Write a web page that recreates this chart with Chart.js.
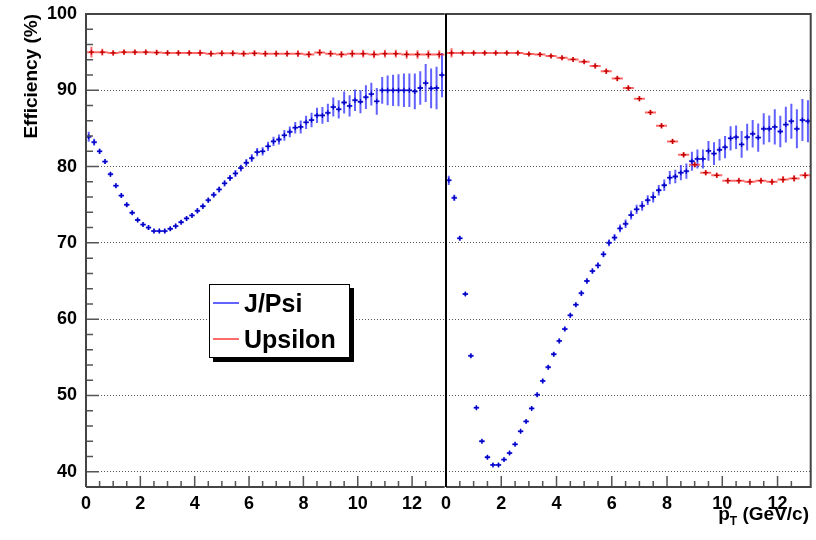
<!DOCTYPE html>
<html>
<head>
<meta charset="utf-8">
<script src="https://cdn.jsdelivr.net/npm/chart.js@4.4.0/dist/chart.umd.min.js"></script>
<style>
  body { margin: 0; background: #fff; width: 816px; height: 540px; position: relative; overflow: hidden; font-family: "Liberation Sans", Arial, sans-serif; }
  canvas { position: absolute; top: 0; }
  #left { left: 0; }
  #right { left: 440px; }
  #legend { position: absolute; left: 209px; top: 284px; width: 139px; height: 72px; border: 1px solid #000; background: #fff; box-shadow: 4px 4px 0 #000; }
  #legend .row { position: absolute; left: 3px; height: 36px; display: flex; align-items: center; font-weight: bold; font-size: 25px; color: #000; }
  #legend .swatch { width: 26px; height: 2px; margin-right: 5px; }
  #xtitle { position: absolute; right: 7px; top: 504px; font-weight: bold; font-size: 19px; line-height: 19px; color: #000; }
  #xtitle sub { font-size: 12px; vertical-align: -5px; }
</style>
</head>
<body>
<canvas id="left" width="450" height="540"></canvas>
<canvas id="right" width="376" height="540"></canvas>
<div id="legend"></div>
<div id="xtitle">p<sub>T</sub> (GeV/c)</div>
<script>
// bin widths in pT (GeV/c)
const jpsiBinWidth = 0.2;
const upsBinWidth = 0.4;

// left panel
const jpsiLeft = [83.9, 83.2, 82.0, 80.65, 79.0, 77.5, 76.2, 75.0, 73.95, 73.0,
  72.4, 72.0, 71.55, 71.55, 71.55, 71.85, 72.2, 72.7, 73.2, 73.6,
  74.2, 74.8, 75.6, 76.3, 77.0, 77.8, 78.5, 79.1, 79.8, 80.5,
  81.1, 81.9, 82.0, 82.65, 83.3, 83.55, 84.1, 84.55, 85.1, 85.2,
  85.8, 86.1, 86.7, 86.7, 87.05, 87.8, 87.5, 88.4, 87.95, 88.7,
  88.5, 89.1, 89.5, 88.55, 90.0, 90.0, 90.0, 90.0, 90.0, 90.0,
  89.85, 90.3, 90.95, 90.25, 90.3, 92.0];
const jpsiLeftErr = [0.65, 0.45, 0.35, 0.3, 0.3, 0.3, 0.3, 0.3, 0.3, 0.3,
  0.3, 0.3, 0.3, 0.3, 0.3, 0.3, 0.3, 0.3, 0.3, 0.3,
  0.35, 0.35, 0.35, 0.35, 0.4, 0.4, 0.4, 0.45, 0.45, 0.5,
  0.5, 0.55, 0.55, 0.6, 0.6, 0.65, 0.7, 0.7, 0.75, 0.85,
  0.87, 0.95, 1.0, 1.1, 1.2, 1.25, 1.2, 1.45, 1.4, 1.4,
  1.5, 1.55, 1.5, 1.75, 1.75, 1.95, 2.05, 2.1, 2.2, 2.2,
  2.35, 2.2, 2.5, 2.6, 2.8, 2.9];
const upsLeft = [95.0, 95.0, 94.9, 95.0, 95.0, 95.0, 94.95, 94.9, 94.9, 94.9,
  94.9, 94.8, 94.85, 94.85, 94.8, 94.85, 94.8, 94.8, 94.8, 94.8,
  94.7, 94.95, 94.8, 94.7, 94.8, 94.8, 94.7, 94.8, 94.8, 94.7,
  94.7, 94.7, 94.7];
const upsLeftErr = [0.7, 0.45, 0.35, 0.35, 0.35, 0.35, 0.35, 0.35, 0.35, 0.35,
  0.4, 0.4, 0.4, 0.4, 0.4, 0.4, 0.4, 0.4, 0.4, 0.45,
  0.45, 0.45, 0.45, 0.45, 0.5, 0.5, 0.5, 0.5, 0.5, 0.55,
  0.55, 0.55, 0.55];

// right panel
const jpsiRight = [78.2, 75.9, 70.6, 63.3, 55.2, 48.4, 44.0, 41.9, 40.9, 40.9,
  41.6, 42.45, 43.6, 45.3, 46.6, 48.3, 50.1, 51.9, 53.7, 55.4,
  57.15, 58.7, 60.5, 61.9, 63.4, 65.0, 66.3, 67.05, 68.5, 70.0,
  70.7, 71.9, 72.5, 73.65, 74.4, 74.85, 75.6, 76.0, 76.9, 77.55,
  78.55, 78.7, 79.2, 79.4, 80.7, 81.0, 81.0, 82.05, 81.7, 82.2,
  82.55, 83.7, 83.85, 82.9, 83.85, 84.3, 83.8, 84.95, 84.95, 85.2,
  84.6, 85.5, 85.95, 84.95, 86.1, 85.95];
const jpsiRightErr = [0.6, 0.4, 0.3, 0.25, 0.25, 0.25, 0.25, 0.25, 0.25, 0.25,
  0.25, 0.25, 0.25, 0.25, 0.25, 0.25, 0.3, 0.3, 0.3, 0.3,
  0.3, 0.3, 0.3, 0.3, 0.35, 0.35, 0.35, 0.4, 0.4, 0.45,
  0.45, 0.5, 0.55, 0.6, 0.6, 0.65, 0.65, 0.7, 0.7, 0.75,
  0.87, 0.87, 1.0, 1.0, 1.25, 1.25, 1.25, 1.3, 1.5, 1.4,
  1.45, 1.6, 1.55, 1.75, 1.75, 1.8, 1.85, 2.05, 1.75, 2.3,
  2.05, 2.35, 2.3, 2.55, 2.75, 2.75];
const upsRight = [94.9, 94.9, 94.9, 94.9, 94.9, 94.9, 94.9, 94.75, 94.7, 94.5,
  94.25, 94.05, 93.75, 93.2, 92.5, 91.55, 90.3, 88.9, 87.1, 85.35,
  83.3, 81.55, 80.25, 79.2, 78.85, 78.15, 78.15, 78.0, 78.15, 78.0,
  78.3, 78.45, 78.85];
const upsRightErr = [0.6, 0.3, 0.3, 0.3, 0.3, 0.3, 0.3, 0.3, 0.3, 0.3,
  0.3, 0.3, 0.3, 0.35, 0.35, 0.35, 0.35, 0.35, 0.35, 0.35,
  0.35, 0.35, 0.35, 0.35, 0.35, 0.4, 0.4, 0.4, 0.4, 0.4,
  0.45, 0.45, 0.45];

const yTickLabels = [40, 50, 60, 70, 80, 90, 100];
const xTickLabels = [0, 2, 4, 6, 8, 10, 12];

const FONT = '"Liberation Sans", Arial, sans-serif';

function toPoints(vals, errs, bw) {
  return vals.map((v, i) => ({ x: (i + 0.5) * bw, y: v, xe: bw / 2, ye: errs[i] }));
}

// error bars drawn under the markers
const errorBars = {
  id: 'errorBars',
  beforeDatasetsDraw(chart) {
    const { ctx, chartArea: a, scales: { x, y } } = chart;
    ctx.save();
    ctx.beginPath();
    ctx.rect(a.left, a.top, a.width, a.height);
    ctx.clip();
    chart.data.datasets.forEach(ds => {
      ctx.strokeStyle = ds.barColor;
      ctx.lineWidth = 2;
      ctx.beginPath();
      ds.data.forEach(p => {
        const px = x.getPixelForValue(p.x), py = y.getPixelForValue(p.y);
        ctx.moveTo(x.getPixelForValue(p.x - p.xe), py);
        ctx.lineTo(x.getPixelForValue(p.x + p.xe), py);
        ctx.moveTo(px, y.getPixelForValue(p.y - p.ye));
        ctx.lineTo(px, y.getPixelForValue(p.y + p.ye));
      });
      ctx.stroke();
    });
    ctx.restore();
  }
};

// ROOT style frame with inward ticks
const rootFrame = {
  id: 'rootFrame',
  afterDatasetsDraw(chart, args, opts) {
    const { ctx, chartArea: a, scales: { x, y } } = chart;
    ctx.save();
    ctx.strokeStyle = '#555';
    ctx.lineWidth = 1.5;
    ctx.beginPath();
    x.ticks.forEach(t => {
      const v = t.value;
      if (Math.abs(v * 2 - Math.round(v * 2)) > 1e-6) return;
      const major = Math.abs(v / 2 - Math.round(v / 2)) < 1e-6;
      const px = x.getPixelForValue(v);
      ctx.moveTo(px, a.bottom);
      ctx.lineTo(px, a.bottom - (major ? 11 : 6));
    });
    if (opts.yTicks) {
      y.ticks.forEach(t => {
        const v = t.value;
        const major = v % 10 === 0;
        const py = y.getPixelForValue(v);
        ctx.moveTo(a.left, py);
        ctx.lineTo(a.left + (major ? 13 : 7), py);
      });
    }
    ctx.stroke();
    ctx.lineWidth = 2;
    ctx.strokeStyle = '#444';
    ctx.beginPath();
    ctx.moveTo(a.left, a.bottom);
    ctx.lineTo(a.left, a.top);
    ctx.lineTo(a.right, a.top);
    if (opts.rightEdge) ctx.lineTo(a.right, a.bottom);
    else ctx.moveTo(a.right, a.bottom);
    ctx.lineTo(a.left, a.bottom);
    ctx.stroke();
    if (opts.leftEdge) {
      ctx.strokeStyle = opts.leftEdge;
      ctx.beginPath();
      ctx.moveTo(a.left, a.top);
      ctx.lineTo(a.left, a.bottom);
      ctx.stroke();
    }
    ctx.restore();
  }
};

function makeDatasets(jv, je, uv, ue) {
  return [
    { label: 'J/Psi', data: toPoints(jv, je, jpsiBinWidth), pointStyle: 'cross', pointRadius: 2.5,
      borderColor: '#0000c0', borderWidth: 1.3, barColor: 'rgba(30,30,255,0.7)', swatch: 'rgba(60,60,255,0.8)' },
    { label: 'Upsilon', data: toPoints(uv, ue, upsBinWidth), pointStyle: 'cross', pointRadius: 2.5,
      borderColor: '#c00000', borderWidth: 1.3, barColor: 'rgba(255,40,40,0.7)', swatch: 'rgba(255,80,80,0.85)' }
  ];
}

function makeOptions(isLeft) {
  return {
    responsive: false,
    animation: false,
    layout: { padding: { top: 14, right: 5, left: 0, bottom: 0 } },
    plugins: {
      legend: { display: false },
      tooltip: { enabled: false },
      rootFrame: { yTicks: isLeft, rightEdge: !isLeft, leftEdge: isLeft ? null : '#000' }
    },
    scales: {
      x: {
        type: 'linear', min: 0, max: 13.2,
        afterFit: s => { s.height = 53; s.paddingLeft = 0; s.paddingRight = 0; },
        grid: { display: false, drawTicks: false },
        border: { display: false },
        ticks: {
          stepSize: 0.5, autoSkip: false, maxRotation: 0, padding: 6, color: '#000',
          font: { family: FONT, size: 18, weight: 'bold' },
          callback: v => xTickLabels.includes(v) ? String(v) : ''
        }
      },
      y: {
        min: 38, max: 100,
        afterFit: s => { s.width = isLeft ? 86 : 6; s.paddingTop = 0; s.paddingBottom = 0; },
        grid: {
          drawTicks: false, lineWidth: 1,
          color: c => (c.tick && c.tick.value % 10 === 0 && c.tick.value < 100) ? '#555' : 'rgba(0,0,0,0)'
        },
        border: { display: false, dash: [1, 2] },
        ticks: {
          display: isLeft, stepSize: 2, autoSkip: false, padding: 9, color: '#000',
          font: { family: FONT, size: 18, weight: 'bold' },
          callback: v => yTickLabels.includes(v) ? String(v) : ''
        },
        title: {
          display: isLeft, text: 'Efficiency (%)', align: 'end', color: '#000',
          font: { family: FONT, size: 19, weight: 'bold' },
          padding: { top: 20, bottom: 0 }
        }
      }
    }
  };
}

const leftChart = new Chart(document.getElementById('left'), {
  type: 'scatter',
  data: { datasets: makeDatasets(jpsiLeft, jpsiLeftErr, upsLeft, upsLeftErr) },
  options: makeOptions(true),
  plugins: [errorBars, rootFrame]
});

new Chart(document.getElementById('right'), {
  type: 'scatter',
  data: { datasets: makeDatasets(jpsiRight, jpsiRightErr, upsRight, upsRightErr) },
  options: makeOptions(false),
  plugins: [errorBars, rootFrame]
});

// legend box
const legend = document.getElementById('legend');
leftChart.data.datasets.forEach((ds, i) => {
  const row = document.createElement('div');
  row.className = 'row';
  row.style.top = (i * 36) + 'px';
  row.innerHTML = `<span class="swatch" style="background:${ds.swatch}"></span><span>${ds.label}</span>`;
  legend.appendChild(row);
});
</script>
</body>
</html>
